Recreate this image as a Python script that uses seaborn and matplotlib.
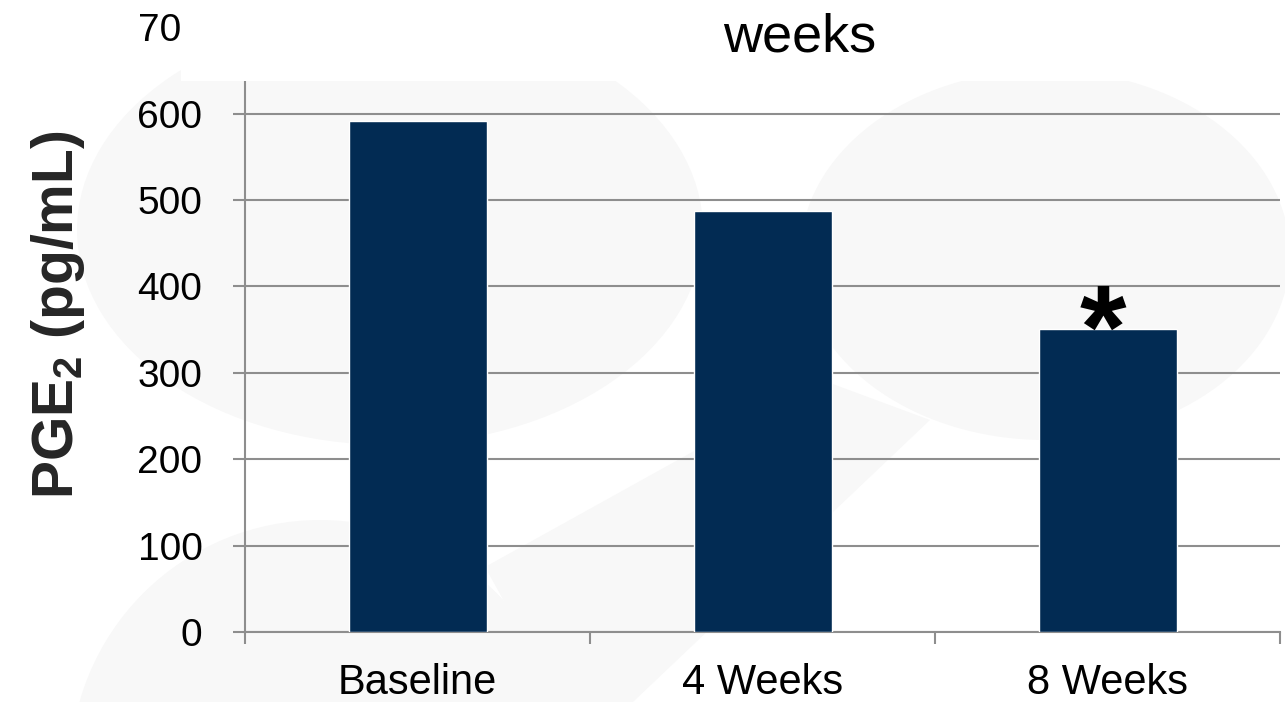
import matplotlib
matplotlib.use("Agg")
import matplotlib.pyplot as plt
from matplotlib.patches import Ellipse, Rectangle, Polygon
from matplotlib.ticker import FixedLocator
import seaborn as sns
import pandas as pd

# PGE2 levels at each visit
timepoints = ["Baseline", "4 Weeks", "8 Weeks"]
pge2_values = [591, 487, 351]
significant = [False, False, True]
y_ticks = [0, 100, 200, 300, 400, 500, 600, 700]
title_line = "weeks"

df = pd.DataFrame({"timepoint": timepoints, "pge2": pge2_values})

sns.set_theme(style="white")
plt.rcParams["font.family"] = ["Liberation Sans", "DejaVu Sans"]
plt.rcParams["mathtext.fontset"] = "custom"
plt.rcParams["mathtext.rm"] = "Liberation Sans"
plt.rcParams["mathtext.bf"] = "Liberation Sans:bold"

W, H = 1285, 702
fig = plt.figure(figsize=(W / 100, H / 100), dpi=100)
fig.patch.set_facecolor("white")

def fx(px):
    return px / W

def fy(py):
    return 1 - py / H

# faint decorative backdrop shapes
shade = "#f8f8f8"
for (cx, cy, w, h) in [(390, 230, 626, 430), (1045, 255, 490, 370), (320, 770, 500, 500)]:
    fig.add_artist(Ellipse((fx(cx), fy(cy)), w / W, h / H, transform=fig.transFigure,
                           facecolor=shade, edgecolor="none", zorder=-2))
fig.add_artist(Polygon([(fx(485), fy(567)), (fx(822), fy(380)), (fx(930), fy(420)), (fx(633), fy(702)),
                        (fx(560), fy(702))],
                       closed=True, transform=fig.transFigure, facecolor=shade,
                       edgecolor="none", zorder=-2))

ax = fig.add_axes([fx(245), fy(632), fx(1280) - fx(245), (632 - 27.2) / H])
ax.set_facecolor("none")

sns.barplot(data=df, x="timepoint", y="pge2", color="#022B53", saturation=1,
            width=0.4, ax=ax, zorder=3)

ax.set_xlim(-0.5, 2.5)
ax.set_ylim(0, 700)
ax.set_yticks(y_ticks)

grid_col = "#8e8e8e"
ax.yaxis.grid(True, color=grid_col, linewidth=1.5, zorder=1)
ax.set_axisbelow(True)
for side in ["top", "right"]:
    ax.spines[side].set_visible(False)
for side in ["left", "bottom"]:
    ax.spines[side].set_color(grid_col)
    ax.spines[side].set_linewidth(1.5)

ax.tick_params(axis="y", which="major", direction="out", length=8.6, width=1.5,
               color=grid_col, labelsize=28, pad=22, labelcolor="black", left=True)
ax.xaxis.set_minor_locator(FixedLocator([-0.5, 0.5, 1.5, 2.5]))
ax.tick_params(axis="x", which="minor", direction="out", length=8.6, width=1.5,
               color=grid_col, bottom=True)
ax.tick_params(axis="x", which="major", length=0, labelsize=30, pad=22, labelcolor="black")

ax.set_xlabel("")
ax.set_ylabel(r"$\mathbf{PGE_2}$ (pg/mL)", fontsize=41, fontweight="bold")
ax.yaxis.set_label_coords(-0.153, 0.524)

for i, (v, sig) in enumerate(zip(pge2_values, significant)):
    if sig:
        ax.annotate("*", xy=(i, v), xytext=(-3, -28), textcoords="offset points",
                    ha="center", va="baseline", fontsize=86, fontweight="bold",
                    color="black", zorder=4)

# title panel over the top of the plot
fig.add_artist(Rectangle((fx(181), fy(81)), 1 - fx(181), 1 - fy(81), transform=fig.transFigure,
                         facecolor="white", edgecolor="none", zorder=5))
fig.text(fx(800), fy(52), title_line, ha="center", va="baseline", fontsize=39,
         color="black", zorder=6)

fig.savefig("out.png", dpi=100)
